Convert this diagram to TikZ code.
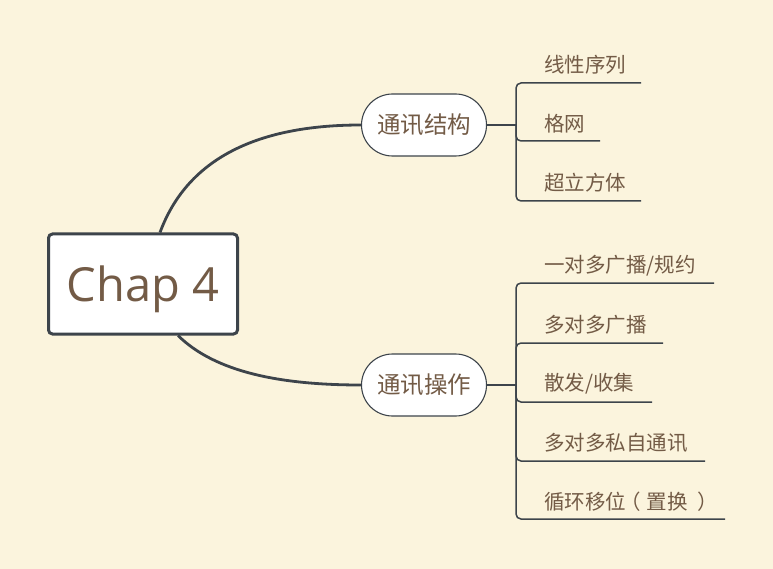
\documentclass[tikz,border=0pt]{standalone}
\usepackage{fontspec}
\setmainfont{Open Sans}
\newfontfamily\cjk{Noto Sans CJK SC}
\usetikzlibrary{calc}
\definecolor{bgc}{RGB}{251,244,221}
\definecolor{linec}{RGB}{61,68,75}
\definecolor{txtc}{RGB}{115,91,70}
\begin{document}
\begin{tikzpicture}[x=1pt,y=-1pt,
 rootbox/.style={draw=linec,line width=3pt,fill=white,rounded corners=4pt,minimum width=189pt,minimum height=100pt,inner sep=0,text depth=0pt,text=txtc,font=\fontsize{47}{56}\selectfont},
 branchbox/.style={draw=linec,line width=1.1pt,fill=white,rounded corners=31pt,minimum width=125pt,minimum height=62pt,inner sep=0,text=txtc,font=\cjk\fontsize{23.5}{28}\selectfont},
 leaftext/.style={anchor=west,inner sep=0,text=txtc,font=\cjk\fontsize{20.5}{24}\selectfont},
 mainlink/.style={draw=linec,line width=2.8pt},
 stublink/.style={draw=linec,line width=2.5pt},
 leaflink/.style={draw=linec,line width=1.5pt,rounded corners=5pt}]
\fill[bgc] (0,0) rectangle (773,569);
\useasboundingbox (0,0) rectangle (773,569);
% main nodes
\node[rootbox] (root) at (143,284) {Chap 4};
\node[branchbox] (b1) at (424,125) {通讯结构};
\node[branchbox] (b2) at (424,385) {通讯操作};
% main connectors
\draw[mainlink] ([xshift=17pt]root.north) .. controls (186,162) and (252,125) .. (b1.west);
\draw[mainlink] ([xshift=35pt]root.south) .. controls (215,372) and (280,385) .. (b2.west);
% junctions
\coordinate (j1) at (516,125);
\coordinate (j2) at (516,385);
\draw[stublink] (b1.east) -- (j1);
\draw[stublink] (b2.east) -- (j2);
% leaves of branch 1
\node[leaftext] (l11) at (544,65) {线性序列};
\node[leaftext] (l12) at (544,124) {格网};
\node[leaftext] (l13) at (544,183) {超立方体};
\coordinate (u11) at (641,83);
\coordinate (u12) at (600,141);
\coordinate (u13) at (641,201);
\draw[leaflink] (j1) |- (u11);
\draw[leaflink] (j1) |- (u12);
\draw[leaflink] (j1) |- (u13);
% leaves of branch 2
\node[leaftext] (l21) at (544,266) {一对多广播/规约};
\node[leaftext] (l22) at (544,325) {多对多广播};
\node[leaftext] (l23) at (544,384) {散发/收集};
\node[leaftext] (l24) at (544,443) {多对多私自通讯};
\node[leaftext] (l25) at (544,502) {循环移位\kern-0.3em（\kern0.3em置换\kern0.5em）\kern-0.5em};
\coordinate (u21) at (714,283);
\coordinate (u22) at (663,343);
\coordinate (u23) at (652,402);
\coordinate (u24) at (705,461);
\coordinate (u25) at (725,519);
\draw[leaflink] (j2) |- (u21);
\draw[leaflink] (j2) |- (u22);
\draw[leaflink] (j2) |- (u23);
\draw[leaflink] (j2) |- (u24);
\draw[leaflink] (j2) |- (u25);
\end{tikzpicture}
\end{document}
